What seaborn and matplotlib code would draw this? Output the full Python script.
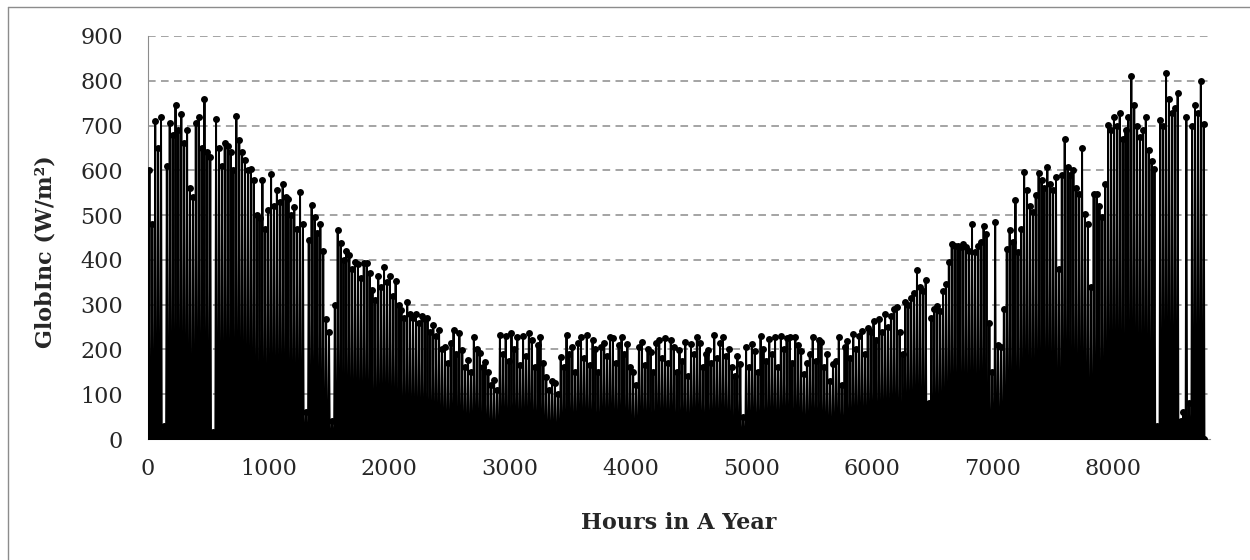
import matplotlib
matplotlib.use("Agg")
import matplotlib.pyplot as plt
import pandas as pd
import seaborn as sns
from matplotlib.lines import Line2D

# ---- data: daily peak GlobInc (W/m2), one value per day ----
peaks_jan_apr = [
    600, 480, 710, 650, 720, 30, 610, 705, 680, 745,
    690, 725, 660, 690, 560, 540, 705, 720, 650, 760,
    640, 630, 15, 715, 650, 610, 660, 655, 640, 600,
    722, 667, 640, 622, 600, 604, 578, 500, 493, 579,
    470, 511, 591, 520, 555, 530, 570, 540, 535, 500,
    519, 470, 552, 480, 60, 444, 522, 496, 460, 481,
    420, 267, 240, 40, 300, 467, 437, 400, 419, 410,
    380, 396, 390, 360, 393, 392, 370, 333, 310, 363,
    340, 385, 350, 363, 320, 352, 300, 289, 270, 307,
    280, 270, 280, 260, 275, 267,
]
peaks_apr_jul = [
    270, 240, 255, 230,
    243, 200, 206, 170, 215, 243, 190, 236, 199, 160,
    176, 150, 228, 200, 191, 160, 172, 150, 120, 131,
    110, 232, 190, 230, 175, 236, 200, 228, 165, 230,
    185, 236, 220, 160, 210, 228, 170, 139, 110, 130,
    125, 100, 184, 160, 232, 190, 206, 150, 215, 228,
    180, 232, 165, 221, 200, 150, 206, 215, 185, 228,
    225, 170, 210, 228, 190, 212, 160, 150, 120, 205,
    217, 165, 202, 195, 150, 215, 220, 180, 225, 170,
    221, 205, 150, 199, 175, 217, 140, 212, 190, 228,
    215, 160, 190, 199, 170, 232, 180, 215,
]
peaks_jul_oct = [
    227, 185,
    200, 160, 140, 185, 167, 50, 205, 160, 212, 197,
    150, 231, 201, 175, 223, 190, 228, 160, 231, 200,
    225, 227, 170, 227, 210, 197, 145, 170, 190, 227,
    175, 222, 216, 160, 190, 130, 167, 175, 227, 120,
    205, 219, 180, 234, 200, 230, 242, 190, 249, 238,
    264, 220, 268, 240, 279, 250, 275, 290, 294, 240,
    190, 307, 300, 316, 325, 378, 340, 331, 354, 80,
    270, 290, 298, 285, 330, 346, 395, 436, 430, 432,
    428, 436, 428, 420, 481, 417, 430, 440,
]
peaks_oct_dec = [
    475, 458,
    260, 150, 484, 210, 205, 290, 425, 466, 440, 533,
    417, 470, 596, 555, 520, 507, 545, 593, 578, 560,
    607, 570, 555, 585, 380, 590, 671, 607, 589, 600,
    560, 548, 649, 503, 480, 340, 548, 548, 520, 496,
    570, 701, 690, 719, 700, 727, 671, 690, 720, 810,
    746, 700, 675, 690, 719, 645, 620, 604, 30, 713,
    700, 818, 760, 727, 740, 772, 40, 60, 719, 80,
    700, 746, 727, 800, 704,
]

# hour of day for sunrise / noon / sunset, and the value at each (0 at night)
day_hours = [6, 12, 18]

peaks = peaks_jan_apr + peaks_apr_jul + peaks_jul_oct + peaks_oct_dec
hours, vals = [], []
for d, p in enumerate(peaks):
    for h, v in zip(day_hours, [0, p, 0]):
        hours.append(d * 24 + h)
        vals.append(v)
df = pd.DataFrame({"hour": hours, "globinc": vals})

# ---- plot ----
sns.set_style("white")
plt.rcParams["font.family"] = ["DejaVu Serif"]

fig = plt.figure(figsize=(12.5, 5.6), dpi=100)
ax = fig.add_axes([148 / 1250, 1 - 439 / 560, (1210 - 148) / 1250, (439 - 36) / 560])

sns.lineplot(data=df, x="hour", y="globinc", color="black", linewidth=1.4,
             marker="o", markersize=5, markeredgewidth=0,
             estimator=None, sort=False, ax=ax, zorder=3)

ax.set_xlim(0, 8800)
ax.set_ylim(0, 900)
ax.set_xticks(range(0, 9000, 1000))
ax.set_yticks(range(0, 1000, 100))
ax.yaxis.grid(True, color="#8c8c8c", linestyle=(0, (5, 3.5)), linewidth=1.1)
ax.xaxis.grid(False)
for s in ["top", "right"]:
    ax.spines[s].set_visible(False)
ax.spines["left"].set_color("#8c8c8c")
ax.spines["bottom"].set_color("#8c8c8c")
ax.tick_params(axis="both", length=0, labelsize=16)
ax.tick_params(axis="y", pad=18)
ax.tick_params(axis="x", pad=14)
ax.set_xlabel("")
ax.set_ylabel("")

fig.text(679 / 1250, 1 - 523 / 560, "Hours in A Year", ha="center", va="center",
         fontsize=16, fontweight="bold")
fig.text(46 / 1250, 1 - 252 / 560, "GlobInc (W/m²)", ha="center", va="center",
         rotation=90, fontsize=16, fontweight="bold")

# outer chart border (only left and top edges fall inside the image)
fig.add_artist(Line2D([8 / 1250, 8 / 1250], [0, 1 - 7 / 560], transform=fig.transFigure,
                      color="#8c8c8c", linewidth=1))
fig.add_artist(Line2D([8 / 1250, 1], [1 - 7 / 560, 1 - 7 / 560], transform=fig.transFigure,
                      color="#8c8c8c", linewidth=1))

fig.savefig("out.png", dpi=100)
